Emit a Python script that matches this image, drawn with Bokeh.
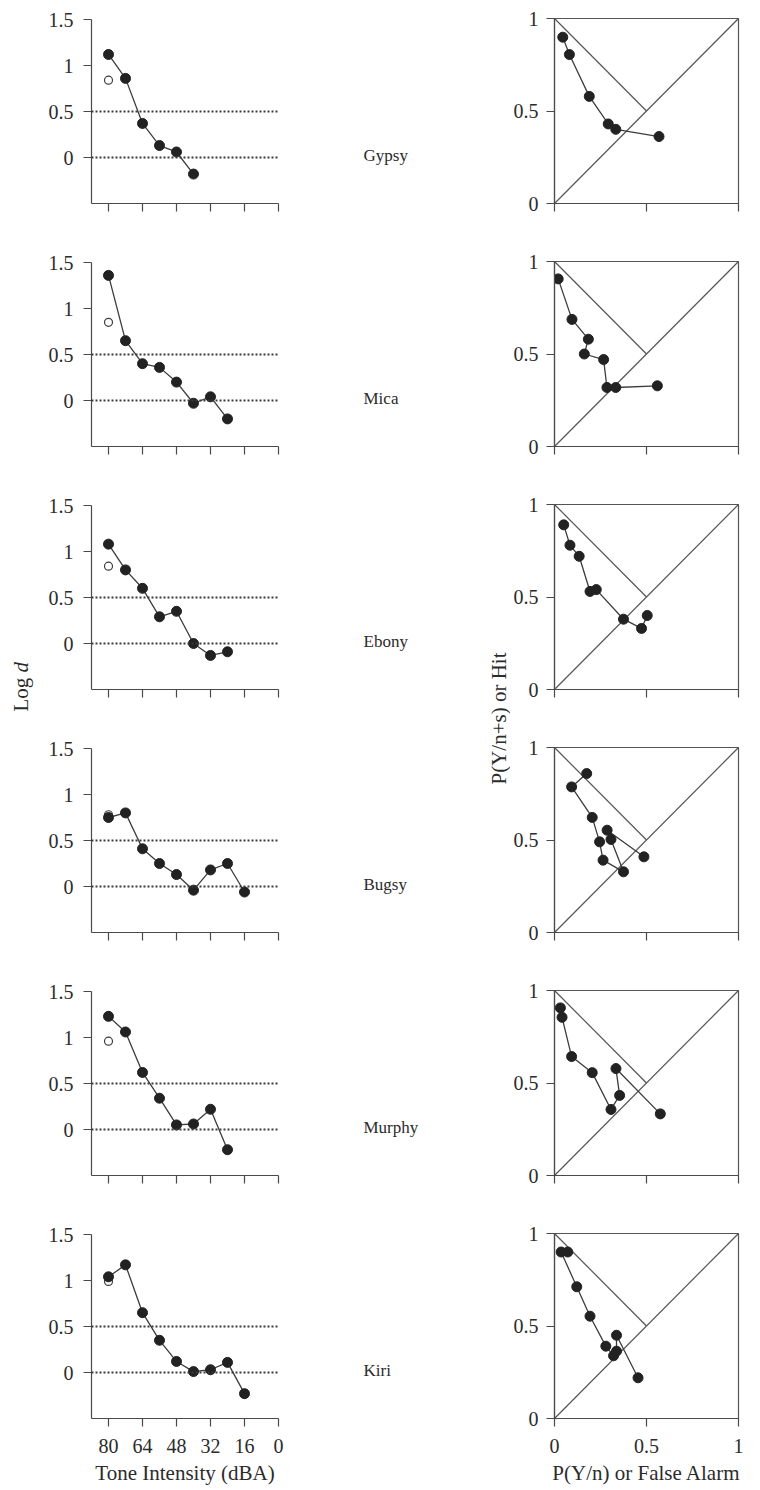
import math
from bokeh.plotting import figure
from bokeh.models import Range1d, FixedTicker, Span
from bokeh.layouts import row, column
from bokeh.core.properties import value
from bokeh.embed import file_html
from bokeh.resources import INLINE

# ---------------- data ----------------
names = ["Gypsy", "Mica", "Ebony", "Bugsy", "Murphy", "Kiri"]
intensity = [80, 72, 64, 56, 48, 40, 32, 24, 16]   # tone intensity, dBA
x_ticks = [80, 64, 48, 32, 16, 0]
logd_ticks = [0, 0.5, 1, 1.5]
p_ticks = [0, 0.5, 1]
criterion_levels = [0, 0.5]

gypsy_logd = [1.12, 0.86, 0.37, 0.13, 0.06, -0.18]
mica_logd = [1.36, 0.65, 0.40, 0.36, 0.20, -0.03, 0.04, -0.20]
ebony_logd = [1.08, 0.80, 0.60, 0.29, 0.35, 0.00, -0.13, -0.09]
bugsy_logd = [0.75, 0.80, 0.41, 0.25, 0.13, -0.04, 0.18, 0.25, -0.06]
murphy_logd = [1.23, 1.06, 0.62, 0.34, 0.05, 0.06, 0.22, -0.22]
kiri_logd = [1.04, 1.17, 0.65, 0.35, 0.12, 0.01, 0.03, 0.11, -0.23]
open_logd_80 = [0.84, 0.85, 0.84, 0.78, 0.96, 0.99]   # open circle at 80 dBA

gypsy_fa = [0.045, 0.081, 0.189, 0.292, 0.333, 0.568]
gypsy_hit = [0.899, 0.805, 0.579, 0.430, 0.401, 0.362]
mica_fa = [0.020, 0.095, 0.184, 0.162, 0.267, 0.285, 0.333, 0.559]
mica_hit = [0.906, 0.687, 0.580, 0.500, 0.470, 0.319, 0.319, 0.328]
ebony_fa = [0.050, 0.084, 0.134, 0.193, 0.227, 0.375, 0.473, 0.504]
ebony_hit = [0.890, 0.780, 0.720, 0.530, 0.540, 0.380, 0.330, 0.400]
bugsy_fa = [0.175, 0.093, 0.205, 0.245, 0.264, 0.375, 0.307, 0.286, 0.486]
bugsy_hit = [0.859, 0.787, 0.622, 0.490, 0.391, 0.328, 0.503, 0.553, 0.409]
murphy_fa = [0.032, 0.041, 0.093, 0.205, 0.307, 0.354, 0.334, 0.575]
murphy_hit = [0.906, 0.855, 0.643, 0.556, 0.357, 0.433, 0.578, 0.333]
kiri_fa = [0.072, 0.036, 0.121, 0.193, 0.279, 0.321, 0.337, 0.337, 0.454]
kiri_hit = [0.900, 0.900, 0.712, 0.553, 0.391, 0.339, 0.364, 0.450, 0.220]

chance_x = [0, 1]
chance_y = [0, 1]
iso_x = [0, 0.5]
iso_y = [1, 0.5]

logd_series = [gypsy_logd, mica_logd, ebony_logd, bugsy_logd, murphy_logd, kiri_logd]
fa_series = [gypsy_fa, mica_fa, ebony_fa, bugsy_fa, murphy_fa, kiri_fa]
hit_series = [gypsy_hit, mica_hit, ebony_hit, bugsy_hit, murphy_hit, kiri_hit]

# ---------------- style / geometry ----------------
FONT = "Liberation Serif"
TXT = "#2b2b2b"
AX = "#4a4a4a"
DOT = "#222222"
LINE = "#3c3c3c"

TOTAL_H = 1488
PITCH = 243
LOG_W = 36                 # column holding "Log d"
LEFT_W = 264               # log-d panels
MID_W = 210                # names + hit-axis title
RIGHT_W = 760 - LOG_W - LEFT_W - MID_W
L_BL, L_FW, L_FH = 55, 187, 184
R_BL, R_FW, R_FH = 553 - (LOG_W + LEFT_W + MID_W), 185, 185
L_TOP, R_TOP = 19, 18
BOT_LAST = 70
X_LO, X_HI = 88, 0


def style_common(p):
    p.grid.visible = False
    p.background_fill_color = "white"
    p.border_fill_color = "white"
    for ax in p.axis:
        ax.axis_line_color = AX
        ax.axis_line_width = 1.2
        ax.major_tick_line_color = AX
        ax.major_tick_line_width = 1.2
        ax.major_tick_in = 0
        ax.major_tick_out = 8
        ax.minor_tick_line_color = None
        ax.major_label_text_font = FONT
        ax.major_label_text_font_size = "20px"
        ax.major_label_text_color = TXT
        ax.axis_label_text_font = FONT
        ax.axis_label_text_font_size = "21px"
        ax.axis_label_text_font_style = "normal"
        ax.axis_label_text_color = TXT


def num_label(v):
    return "%g" % v


def blank_fig(w):
    f = figure(width=w, height=TOTAL_H, x_range=Range1d(0, w), y_range=Range1d(TOTAL_H, 0),
               x_axis_location=None, y_axis_location=None, output_backend="svg",
               toolbar_location=None, min_border_left=0, min_border_right=0,
               min_border_top=0, min_border_bottom=0)
    f.outline_line_color = None
    f.grid.visible = False
    f.background_fill_color = "white"
    f.border_fill_color = "white"
    return f


left_figs, right_figs = [], []
n = len(names)
for i in range(n):
    last = i == n - 1
    # ---------- left: log d vs tone intensity ----------
    lb = (PITCH - L_TOP - L_FH) if not last else BOT_LAST
    pl = figure(width=LEFT_W, height=L_TOP + L_FH + lb,
                x_range=Range1d(X_LO, X_HI), y_range=Range1d(-0.5, 1.5),
                output_backend="svg", toolbar_location=None,
                min_border_left=L_BL, min_border_right=LEFT_W - L_BL - L_FW,
                min_border_top=L_TOP, min_border_bottom=lb)
    style_common(pl)
    pl.outline_line_color = None
    pl.xaxis.ticker = FixedTicker(ticks=x_ticks)
    pl.yaxis.ticker = FixedTicker(ticks=logd_ticks)
    pl.yaxis.major_label_overrides = {t: num_label(t) for t in logd_ticks}
    pl.yaxis.major_label_standoff = 10
    if last:
        pl.xaxis.major_label_overrides = {t: num_label(t) for t in x_ticks}
        pl.xaxis.major_label_standoff = 12
        pl.xaxis.axis_label = "Tone Intensity (dBA)"
        pl.xaxis.axis_label_standoff = 5
    else:
        pl.xaxis.major_label_overrides = {t: "" for t in x_ticks}
    for lev in criterion_levels:
        pl.add_layout(Span(location=lev, dimension="width", line_color="#3a3a3a",
                           line_width=2, line_dash="2 2"))
    ys = logd_series[i]
    xs = intensity[:len(ys)]
    pl.scatter([intensity[0]], [open_logd_80[i]], size=8, fill_color="white",
               line_color=LINE, line_width=1.2)
    pl.line(xs, ys, line_color=LINE, line_width=1.3)
    pl.scatter(xs, ys, size=10, fill_color=DOT, line_color=DOT)
    left_figs.append(pl)

    # ---------- right: hit vs false alarm ----------
    rb = (PITCH - R_TOP - R_FH) if not last else BOT_LAST + 1
    pr = figure(width=RIGHT_W, height=R_TOP + R_FH + rb,
                x_range=Range1d(0, 1), y_range=Range1d(0, 1),
                output_backend="svg", toolbar_location=None,
                min_border_left=R_BL, min_border_right=RIGHT_W - R_BL - R_FW,
                min_border_top=R_TOP, min_border_bottom=rb)
    style_common(pr)
    pr.outline_line_color = "#555555"
    pr.outline_line_width = 1.2
    pr.xaxis.ticker = FixedTicker(ticks=p_ticks)
    pr.yaxis.ticker = FixedTicker(ticks=p_ticks)
    pr.yaxis.major_label_overrides = {t: num_label(t) for t in p_ticks}
    pr.yaxis.major_label_standoff = 8
    if last:
        pr.xaxis.major_label_overrides = {t: num_label(t) for t in p_ticks}
        pr.xaxis.major_label_standoff = 12
        pr.xaxis.axis_label = "P(Y/n) or False Alarm"
        pr.xaxis.axis_label_standoff = 5
    else:
        pr.xaxis.major_label_overrides = {t: "" for t in p_ticks}
    pr.line(chance_x, chance_y, line_color="#555555", line_width=1.2)
    pr.line(iso_x, iso_y, line_color="#555555", line_width=1.2)
    pr.line(fa_series[i], hit_series[i], line_color=LINE, line_width=1.3)
    pr.scatter(fa_series[i], hit_series[i], size=10, fill_color=DOT, line_color=DOT)
    right_figs.append(pr)

# ---------- text columns ----------
log_fig = blank_fig(LOG_W)
log_fig.text(x=[20], y=[711], text=["Log"], angle=math.pi / 2,
             text_font=value(FONT), text_font_size="21px", text_color=TXT,
             text_align="left", text_baseline="middle")
log_fig.text(x=[20], y=[672], text=["d"], angle=math.pi / 2,
             text_font=value(FONT), text_font_size="21px", text_color=TXT,
             text_font_style="italic", text_align="left", text_baseline="middle")

mid_fig = blank_fig(MID_W)
name_x = 363 - LOG_W - LEFT_W
zero_px = L_FH * 1.5 / 2.0
name_y = [L_TOP + PITCH * i + zero_px - 2 for i in range(n)]
mid_fig.text(x=[name_x] * n, y=name_y, text=names,
             text_font=value(FONT), text_font_size="17px", text_color=TXT,
             text_align="left", text_baseline="middle")
mid_fig.text(x=[MID_W - 12], y=[718], text=["P(Y/n+s) or Hit"], angle=math.pi / 2,
             text_font=value(FONT), text_font_size="21px", text_color=TXT,
             text_align="center", text_baseline="middle")

layout = row(log_fig, column(*left_figs, spacing=0), mid_fig,
             column(*right_figs, spacing=0), spacing=0)
open("out.html", "w").write(file_html(layout, INLINE))
